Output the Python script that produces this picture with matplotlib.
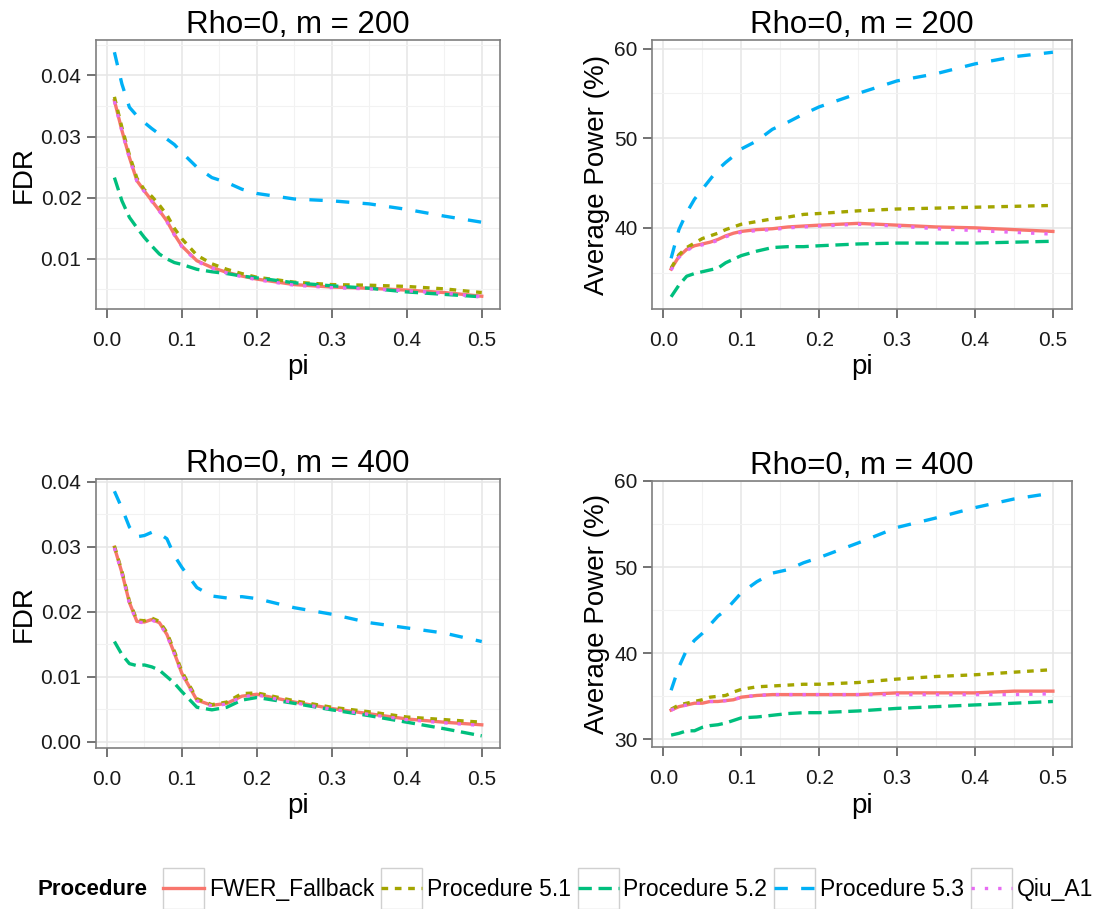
import matplotlib
matplotlib.use('Agg')
import matplotlib.pyplot as plt
import matplotlib.ticker as mticker
from matplotlib.legend_handler import HandlerLine2D
from matplotlib.patches import Rectangle
from matplotlib.lines import Line2D
import numpy as np

plt.rcParams['font.family'] = ['Liberation Sans', 'DejaVu Sans']

PI = [0.01, 0.02, 0.03, 0.04, 0.05, 0.06, 0.07, 0.08, 0.09, 0.10,
      0.12, 0.14, 0.16, 0.18, 0.20, 0.25, 0.30, 0.35, 0.40, 0.45, 0.50]

PROCEDURES = ['FWER_Fallback', 'Procedure 5.1', 'Procedure 5.2', 'Procedure 5.3', 'Qiu_A1']
COLORS = ['#F8766D', '#A3A500', '#00BF7D', '#00B0F6', '#E76BF3']
DASHES = [None, (2, 2), (4, 2), (4, 4), (1, 3)]

# FDR, m = 200
fdr200_fwer = [0.0359, 0.0310, 0.0266, 0.0228, 0.0211, 0.0195, 0.0179, 0.0162, 0.0140, 0.0121,
               0.0097, 0.0086, 0.0078, 0.0072, 0.0067, 0.0058, 0.0054, 0.0052, 0.0049, 0.0045, 0.0039]
fdr200_p51 = [0.0365, 0.0315, 0.0270, 0.0232, 0.0213, 0.0202, 0.0188, 0.0172, 0.0150, 0.0133,
              0.0106, 0.0092, 0.0083, 0.0076, 0.0070, 0.0062, 0.0058, 0.0057, 0.0055, 0.0051, 0.0045]
fdr200_p52 = [0.0233, 0.0195, 0.0168, 0.0151, 0.0135, 0.0121, 0.0108, 0.0100, 0.0094, 0.0091,
              0.0083, 0.0079, 0.0076, 0.0072, 0.0069, 0.0061, 0.0056, 0.0052, 0.0046, 0.0042, 0.0038]
fdr200_p53 = [0.0438, 0.0386, 0.0348, 0.0334, 0.0323, 0.0313, 0.0304, 0.0296, 0.0287, 0.0274,
              0.0250, 0.0233, 0.0225, 0.0214, 0.0207, 0.0198, 0.0195, 0.0190, 0.0181, 0.0170, 0.0160]
fdr200_qiu = [0.0358, 0.0309, 0.0265, 0.0227, 0.0210, 0.0194, 0.0178, 0.0161, 0.0139, 0.0120,
              0.0096, 0.0085, 0.0077, 0.0071, 0.0066, 0.0057, 0.0053, 0.0051, 0.0048, 0.0044, 0.0038]

# Average power, m = 200
pow200_fwer = [35.4, 36.8, 37.6, 38.0, 38.2, 38.4, 38.7, 39.1, 39.4, 39.6,
               39.8, 39.9, 40.1, 40.2, 40.3, 40.5, 40.3, 40.1, 40.0, 39.8, 39.6]
pow200_p51 = [35.5, 37.0, 37.8, 38.3, 38.8, 39.1, 39.4, 39.8, 40.1, 40.4,
              40.7, 41.0, 41.2, 41.5, 41.6, 41.9, 42.1, 42.2, 42.3, 42.4, 42.5]
pow200_p52 = [32.3, 33.6, 34.6, 34.9, 35.1, 35.3, 35.5, 36.1, 36.5, 36.9,
              37.4, 37.8, 37.9, 37.9, 38.0, 38.2, 38.3, 38.3, 38.3, 38.4, 38.5]
pow200_p53 = [36.6, 39.8, 41.7, 43.2, 44.3, 45.4, 46.5, 47.3, 48.0, 48.8,
              49.7, 51.0, 51.8, 52.7, 53.5, 55.0, 56.4, 57.2, 58.3, 59.1, 59.6]
pow200_qiu = [35.3, 36.7, 37.5, 37.9, 38.1, 38.3, 38.6, 39.0, 39.3, 39.5,
              39.7, 39.8, 40.0, 40.1, 40.2, 40.4, 40.2, 39.9, 39.7, 39.5, 39.3]

# FDR, m = 400
fdr400_fwer = [0.0299, 0.0260, 0.0214, 0.0185, 0.0184, 0.0188, 0.0183, 0.0165, 0.0136, 0.0105,
               0.0064, 0.0056, 0.0059, 0.0070, 0.0073, 0.0061, 0.0051, 0.0043, 0.0035, 0.0030, 0.0026]
fdr400_p51 = [0.0301, 0.0262, 0.0216, 0.0187, 0.0186, 0.0190, 0.0185, 0.0168, 0.0139, 0.0108,
              0.0066, 0.0057, 0.0061, 0.0074, 0.0075, 0.0063, 0.0053, 0.0046, 0.0038, 0.0034, 0.0030]
fdr400_p52 = [0.0154, 0.0134, 0.0120, 0.0117, 0.0118, 0.0115, 0.0110, 0.0100, 0.0090, 0.0077,
              0.0053, 0.0049, 0.0053, 0.0064, 0.0068, 0.0059, 0.0049, 0.0040, 0.0030, 0.0020, 0.0009]
fdr400_p53 = [0.0385, 0.0359, 0.0330, 0.0315, 0.0317, 0.0322, 0.0320, 0.0312, 0.0286, 0.0268,
              0.0237, 0.0224, 0.0221, 0.0223, 0.0220, 0.0206, 0.0196, 0.0183, 0.0175, 0.0167, 0.0154]
fdr400_qiu = [0.0298, 0.0259, 0.0213, 0.0184, 0.0183, 0.0187, 0.0182, 0.0164, 0.0135, 0.0104,
              0.0063, 0.0055, 0.0058, 0.0069, 0.0072, 0.0060, 0.0050, 0.0042, 0.0034, 0.0029, 0.0025]

# Average power, m = 400
pow400_fwer = [33.4, 33.8, 34.0, 34.2, 34.2, 34.4, 34.4, 34.5, 34.6, 34.9,
               35.1, 35.2, 35.2, 35.2, 35.2, 35.2, 35.4, 35.4, 35.4, 35.6, 35.6]
pow400_p51 = [33.5, 34.0, 34.2, 34.4, 34.6, 34.9, 35.0, 35.1, 35.5, 35.8,
              36.1, 36.2, 36.3, 36.4, 36.4, 36.6, 37.0, 37.3, 37.5, 37.8, 38.1]
pow400_p52 = [30.5, 30.7, 31.0, 31.0, 31.4, 31.6, 31.7, 31.9, 32.2, 32.5,
              32.6, 32.8, 33.0, 33.1, 33.1, 33.3, 33.6, 33.8, 34.0, 34.2, 34.4]
pow400_p53 = [35.7, 38.4, 40.4, 41.5, 42.3, 43.3, 44.3, 45.0, 46.0, 47.0,
              48.3, 49.3, 49.7, 50.5, 51.1, 52.8, 54.6, 55.7, 56.9, 57.9, 58.6]
pow400_qiu = [33.4, 33.8, 34.0, 34.2, 34.2, 34.4, 34.4, 34.5, 34.6, 34.9,
              35.1, 35.2, 35.2, 35.2, 35.2, 35.2, 35.2, 35.2, 35.2, 35.2, 35.3]

X_TICKS = [0.0, 0.1, 0.2, 0.3, 0.4, 0.5]
LW = 2.4


class BoxedLineHandler(HandlerLine2D):
    """Legend key with a light grey box behind the line, ggplot style."""
    def create_artists(self, legend, orig_handle, xdescent, ydescent,
                       width, height, fontsize, trans):
        artists = super().create_artists(legend, orig_handle, xdescent, ydescent,
                                         width, height, fontsize, trans)
        pad = height * 0.8
        inset = width * 0.1
        for a in artists:
            xd = a.get_xdata()
            if len(xd) == 2:
                a.set_xdata([xd[0] + inset, xd[1] - inset])
        rect = Rectangle((-xdescent, -ydescent - pad), width, height + 2 * pad,
                         facecolor='white', edgecolor='#d0d0d0', linewidth=1.0,
                         transform=trans)
        return [rect] + list(artists)


def style_axes(ax, title, ylabel, y_ticks, y_fmt, series):
    lo = min(min(s) for s in series)
    hi = max(max(s) for s in series)
    pad = (hi - lo) * 0.05
    xpad = (PI[-1] - PI[0]) * 0.05
    ax.set_xlim(PI[0] - xpad, PI[-1] + xpad)

    ax.set_xticks(X_TICKS)
    ax.xaxis.set_major_formatter(mticker.FormatStrFormatter('%.1f'))
    ax.set_xticks([0.05, 0.15, 0.25, 0.35, 0.45], minor=True)
    ax.set_yticks(y_ticks)
    ax.yaxis.set_major_formatter(mticker.FormatStrFormatter(y_fmt))
    step = y_ticks[1] - y_ticks[0]
    minors = [t + step / 2 for t in [y_ticks[0] - step] + list(y_ticks)]
    ax.set_yticks(minors, minor=True)
    ax.set_ylim(lo - pad, hi + pad)

    ax.grid(which='major', color='#e6e6e6', linewidth=1.1, zorder=0)
    ax.grid(which='minor', color='#f2f2f2', linewidth=0.8, zorder=0)
    ax.set_axisbelow(True)
    for sp in ax.spines.values():
        sp.set_color('#7f7f7f')
        sp.set_linewidth(1.2)
    ax.tick_params(which='major', direction='out', length=6.5, width=1.1,
                   color='#4d4d4d', labelsize=15, labelcolor='#1a1a1a')
    ax.tick_params(axis='x', which='major', pad=9.5)
    ax.tick_params(axis='y', which='major', pad=4)
    ax.tick_params(which='minor', length=0)
    ax.set_title(title, fontsize=22.5, pad=4)
    ax.set_xlabel('pi', fontsize=20, labelpad=3)
    ax.set_ylabel(ylabel, fontsize=20, labelpad=3)


def draw_panel(ax, series):
    for vals, color, dash in zip(series, COLORS, DASHES):
        line, = ax.plot(PI, vals, color=color, linewidth=LW, zorder=3)
        if dash is not None:
            line.set_dashes(dash)


fig = plt.figure(figsize=(11.04, 9.09), dpi=100)
ax1 = fig.add_axes([0.087, 0.660, 0.366, 0.296])
ax2 = fig.add_axes([0.5906, 0.660, 0.3804, 0.296])
ax3 = fig.add_axes([0.087, 0.177, 0.366, 0.296])
ax4 = fig.add_axes([0.5906, 0.178, 0.3804, 0.293])

s1 = [fdr200_fwer, fdr200_p51, fdr200_p52, fdr200_p53, fdr200_qiu]
s2 = [pow200_fwer, pow200_p51, pow200_p52, pow200_p53, pow200_qiu]
s3 = [fdr400_fwer, fdr400_p51, fdr400_p52, fdr400_p53, fdr400_qiu]
s4 = [pow400_fwer, pow400_p51, pow400_p52, pow400_p53, pow400_qiu]

draw_panel(ax1, s1)
style_axes(ax1, 'Rho=0, m = 200', 'FDR', [0.01, 0.02, 0.03, 0.04], '%.2f', s1)
draw_panel(ax2, s2)
style_axes(ax2, 'Rho=0, m = 200', 'Average Power (%)', [40, 50, 60], '%d', s2)
draw_panel(ax3, s3)
style_axes(ax3, 'Rho=0, m = 400', 'FDR', [0.00, 0.01, 0.02, 0.03, 0.04], '%.2f', s3)
draw_panel(ax4, s4)
style_axes(ax4, 'Rho=0, m = 400', 'Average Power (%)', [30, 40, 50, 60], '%d', s4)

# Legend at the bottom
handles = []
for name, color, dash in zip(PROCEDURES, COLORS, DASHES):
    h = Line2D([0], [0], color=color, linewidth=LW, label=name)
    if dash is not None:
        h.set_dashes(dash)
    handles.append(h)

fig.text(0.034, 0.021, 'Procedure', fontsize=16, fontweight='bold',
         ha='left', va='center')
fig.legend(handles=handles, loc='center left', bbox_to_anchor=(0.1476, 0.021),
           ncol=5, frameon=False, fontsize=16.5, handlelength=1.8,
           handletextpad=0.2, columnspacing=0.3, borderpad=0, borderaxespad=0,
           handler_map={Line2D: BoxedLineHandler()})

fig.savefig('out.png', dpi=100, facecolor='white')
